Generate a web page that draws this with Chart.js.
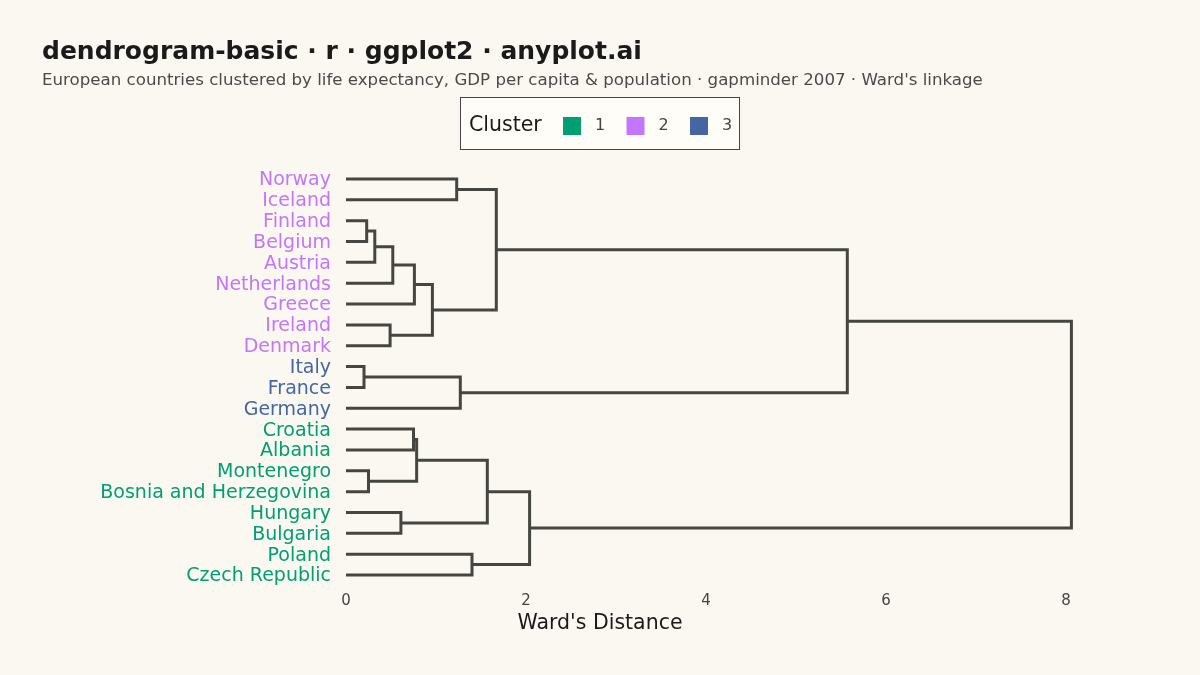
<!DOCTYPE html>
<html lang="en">
<head>
  <meta charset="UTF-8">
  <title>dendrogram-basic · r · ggplot2 · anyplot.ai</title>
  <script src="https://cdn.jsdelivr.net/npm/chart.js"></script>
  <style>
    html, body { margin: 0; padding: 0; background: #FAF8F1; }
    canvas { display: block; }
  </style>
</head>
<body>
  <canvas id="chart" width="1200" height="675"></canvas>
  <script>
    // Leaves, top to bottom, and their cluster
    const leaves = [
      'Norway', 'Iceland', 'Finland', 'Belgium', 'Austria', 'Netherlands', 'Greece',
      'Ireland', 'Denmark', 'Italy', 'France', 'Germany', 'Croatia', 'Albania',
      'Montenegro', 'Bosnia and Herzegovina', 'Hungary', 'Bulgaria', 'Poland', 'Czech Republic'
    ];
    const leafCluster = [2, 2, 2, 2, 2, 2, 2, 2, 2, 3, 3, 3, 1, 1, 1, 1, 1, 1, 1, 1];
    const clusterLabels = ['1', '2', '3'];
    const clusterColors = ['#009E73', '#C475FD', '#4467A3'];

    // Merge steps (leaf name or 'mK' for the K-th merge) and their Ward's distance
    const mergeLeft = ['Italy', 'Finland', 'Montenegro', 'm1', 'Ireland', 'm3', 'Hungary', 'Croatia', 'm5', 'm7',
                       'm8', 'Norway', 'm0', 'Poland', 'm9', 'm11', 'm14', 'm15', 'm17'];
    const mergeRight = ['France', 'Belgium', 'Bosnia and Herzegovina', 'Austria', 'Denmark', 'Netherlands', 'Bulgaria', 'Albania', 'Greece', 'm2',
                        'm4', 'Iceland', 'Germany', 'Czech Republic', 'm6', 'm10', 'm13', 'm12', 'm16'];
    const mergeHeight = [0.20, 0.23, 0.25, 0.32, 0.49, 0.52, 0.61, 0.75, 0.76, 0.785,
                         0.96, 1.23, 1.27, 1.40, 1.57, 1.67, 2.04, 5.57, 8.06];

    const xTicks = [0, 2, 4, 6, 8];

    const FONT = "'DejaVu Sans', sans-serif";
    const LINE = '#454541';

    // leaf positions 1..n, each merge sits midway between its two children
    const nodeY = {};
    const nodeH = {};
    leaves.forEach((name, i) => { nodeY[name] = i + 1; nodeH[name] = 0; });

    const datasets = mergeHeight.map((h, k) => {
      const a = mergeLeft[k];
      const b = mergeRight[k];
      nodeY['m' + k] = (nodeY[a] + nodeY[b]) / 2;
      nodeH['m' + k] = h;
      return {
        data: [
          { x: nodeH[a], y: nodeY[a] },
          { x: h, y: nodeY[a] },
          { x: h, y: nodeY[b] },
          { x: nodeH[b], y: nodeY[b] }
        ],
        showLine: true,
        borderColor: LINE,
        borderWidth: 3,
        borderJoinStyle: 'miter',
        pointRadius: 0,
        fill: false,
        tension: 0
      };
    });

    const decor = {
      id: 'decor',
      beforeDraw(chart) {
        const ctx = chart.ctx;
        ctx.save();
        ctx.fillStyle = '#FAF8F1';
        ctx.fillRect(0, 0, chart.width, chart.height);
        ctx.restore();
      },
      afterDraw(chart) {
        const ctx = chart.ctx;
        ctx.save();
        ctx.textBaseline = 'alphabetic';

        // title + subtitle
        ctx.fillStyle = '#1a1a1a';
        ctx.font = 'bold 25px ' + FONT;
        ctx.textAlign = 'left';
        ctx.fillText('dendrogram-basic · r · ggplot2 · anyplot.ai', 42, 59);
        ctx.fillStyle = '#4a4a4a';
        ctx.font = '16.65px ' + FONT;
        ctx.fillText("European countries clustered by life expectancy, GDP per capita & population · gapminder 2007 · Ward's linkage", 42, 85);

        // legend box
        ctx.fillStyle = '#FFFDF7';
        ctx.fillRect(460, 97, 280, 52);
        ctx.strokeStyle = '#444';
        ctx.lineWidth = 1;
        ctx.strokeRect(460.5, 97.5, 279, 52);
        ctx.fillStyle = '#1a1a1a';
        ctx.font = '20.5px ' + FONT;
        ctx.fillText('Cluster', 469, 131);
        ctx.font = '16px ' + FONT;
        ctx.textAlign = 'center';
        clusterLabels.forEach((lab, i) => {
          const sx = 563 + i * 63.5;
          ctx.fillStyle = clusterColors[i];
          ctx.fillRect(sx, 117, 18, 18);
          ctx.fillStyle = '#444';
          ctx.fillText(lab, sx + 37, 130);
        });

        // x axis title, centred on the page
        ctx.fillStyle = '#1a1a1a';
        ctx.font = '20.5px ' + FONT;
        ctx.fillText("Ward's Distance", chart.width / 2, 629);
        ctx.restore();
      }
    };

    new Chart(document.getElementById('chart'), {
      type: 'scatter',
      data: { datasets },
      options: {
        responsive: false,
        animation: false,
        layout: { padding: { left: 0, right: 89, top: 166.5, bottom: 0 } },
        plugins: {
          legend: { display: false },
          tooltip: { enabled: false }
        },
        scales: {
          x: {
            type: 'linear',
            min: 0,
            max: 8.5,
            afterBuildTicks: s => { s.ticks = xTicks.map(v => ({ value: v })); },
            afterFit: s => { s.height = 87.5; },
            grid: { display: false, drawTicks: false },
            border: { display: false },
            ticks: {
              color: '#444',
              font: { family: FONT, size: 15 },
              padding: 5
            }
          },
          y: {
            type: 'linear',
            reverse: true,
            min: 0.4,
            max: 20.6,
            afterBuildTicks: s => { s.ticks = leaves.map((_, i) => ({ value: i + 1 })); },
            afterFit: s => { s.width = 346; },
            grid: { display: false, drawTicks: false },
            border: { display: false },
            ticks: {
              autoSkip: false,
              callback: (v, i) => leaves[i],
              color: c => clusterColors[leafCluster[c.index] - 1],
              font: { family: FONT, size: 19 },
              padding: 15,
              labelOffset: 1.5
            }
          }
        }
      },
      plugins: [decor]
    });
  </script>
</body>
</html>
